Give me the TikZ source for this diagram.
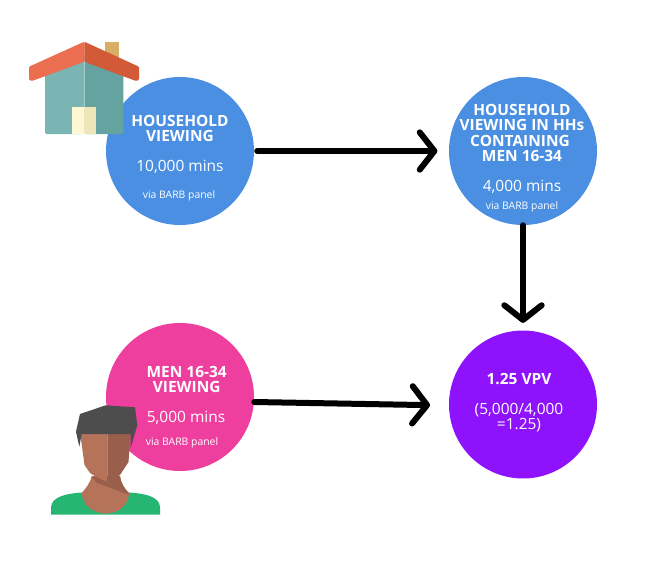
\documentclass[tikz,border=0pt]{standalone}
\usepackage{fontspec}
\setmainfont{Open Sans}
\usetikzlibrary{arrows.meta}
\definecolor{cblue}{HTML}{4A8FE2}
\definecolor{cpink}{HTML}{EE3F9E}
\definecolor{cpurple}{HTML}{8E12FC}
\definecolor{rfl}{HTML}{EC6E50}
\definecolor{rfr}{HTML}{D35A36}
\definecolor{wll}{HTML}{7AB5B3}
\definecolor{wlr}{HTML}{64A3A0}
\definecolor{chim}{HTML}{D9AE68}
\definecolor{drl}{HTML}{FDF7D6}
\definecolor{drr}{HTML}{EDE6B8}
\definecolor{skl}{HTML}{B5735A}
\definecolor{skr}{HTML}{995F4B}
\definecolor{hair}{HTML}{4D4D4D}
\definecolor{shirt}{HTML}{26B573}
\tikzset{
  x=0.75pt,y=-0.75pt,
  disc/.style={circle,inner sep=0pt,minimum size=148*0.75pt},
  head/.style={text=white,inner sep=0pt,font=\bfseries\fontsize{11.6}{11.6}\selectfont},
  mins/.style={text=white,inner sep=0pt,font=\fontsize{11.6}{11.6}\selectfont},
  via/.style={text=white,inner sep=0pt,font=\fontsize{7.8}{7.8}\selectfont},
  flow/.style={line width=4.5pt,line cap=round,-{Straight Barb[length=11pt,width=28pt,line width=4.5pt,round]}},
}
\begin{document}
\begin{tikzpicture}
\useasboundingbox (0,0) rectangle (658,564);
\fill[white] (0,0) rectangle (658,564);
% circles
\node[disc,fill=cblue] (hh) at (180,151) {};
\node[disc,fill=cblue] (hhm) at (523,151) {};
\node[disc,fill=cpink] (men) at (180,397) {};
\node[disc,fill=cpurple] (vpv) at (523,404.5) {};
% connectors
\draw[flow,shorten >=8.5pt,shorten <=2.2pt] (hh.east) -- (hhm.west);
\draw[flow,shorten >=5.5pt] (hhm.south) -- (vpv.north);
\draw[flow,shorten >=14pt] (men.east) ++(0,5) coordinate (mstart) -- ([yshift=-0.75pt]vpv.west);
% house
\fill[chim] (104.7,41.7) rectangle (118.7,60);
\fill[wll,rounded corners=1.5pt] (45,70) -- (84.3,55) -- (84.3,134) -- (45,134) -- cycle;
\fill[wlr,rounded corners=1.5pt] (84.7,55) -- (123.3,70) -- (123.3,134) -- (84.7,134) -- cycle;
\fill[drl] (72,107) rectangle (84.3,134);
\fill[drr] (84.3,107) rectangle (96,134);
\fill[rfl,rounded corners=0.8pt] (84.3,41.7) -- (29,66.7) -- (29,80) -- (32,81) -- (84.3,61.7) -- cycle;
\fill[rfr,rounded corners=0.8pt] (84.3,41.7) -- (139,66.7) -- (139,80) -- (136,81) -- (84.3,61.7) -- cycle;
% person
\fill[shirt] (51,514.7) -- (51,507) .. controls (52,498) and (62,494) .. (81.7,492.5) -- (129.3,492.5) .. controls (150,494) and (159,498) .. (160,507) -- (160,514.7) -- cycle;
\fill[skl] (91.7,476) .. controls (90,484) and (85,489) .. (81.7,493) .. controls (83,507) and (95,513.5) .. (106,513.5) .. controls (118,513.5) and (128,506) .. (129.3,493) .. controls (125,489) and (121,484) .. (120,476) -- cycle;
\fill[skr] (91.7,477) -- (96.7,482.7) -- (129.3,495) .. controls (125,489) and (121,484) .. (120,476) -- cycle;
\fill[skl] (80,432) -- (107.3,432) -- (107.3,481.7) -- (98,478) -- (90,473) -- (84.5,465) -- cycle;
\fill[skr] (107.3,432) -- (130.7,432) -- (128.5,462) -- (120,475) -- (107.3,481.7) -- cycle;
\fill[hair] (80,414) -- (105.7,405.3) -- (135,407.3) -- (137.3,425) -- (130.7,448) -- (130.7,434) -- (81.7,434) -- (79.3,446.7) -- (76,431.7) -- cycle;
% texts
\node[head] (t1a) at (180,121) {HOUSEHOLD};
\node[head] (t1b) at (180,136) {VIEWING};
\node[mins] (t1c) at (180,167) {10,000 mins};
\node[via] (t1d) at (179,195.5) {via BARB panel};
\node[head] (t2a) at (522,110) {HOUSEHOLD};
\node[head] (t2b) at (522,125) {VIEWING IN HHs};
\node[head] (t2c) at (520,141) {CONTAINING};
\node[head] (t2d) at (522,156) {MEN 16-34};
\node[mins] (t2e) at (522,187) {4,000 mins};
\node[via] (t2f) at (522,207) {via BARB panel};
\node[head] (t3a) at (186.7,372) {MEN 16-34};
\node[head] (t3b) at (186.7,387) {VIEWING};
\node[mins] (t3c) at (186,418) {5,000 mins};
\node[via] (t3d) at (182,442.5) {via BARB panel};
\node[head] (t4a) at (519,379) {1.25 VPV};
\node[mins] (t4b) at (519,410) {(5,000/4,000};
\node[mins] (t4c) at (519,425) {=1.25)};
\end{tikzpicture}
\end{document}
